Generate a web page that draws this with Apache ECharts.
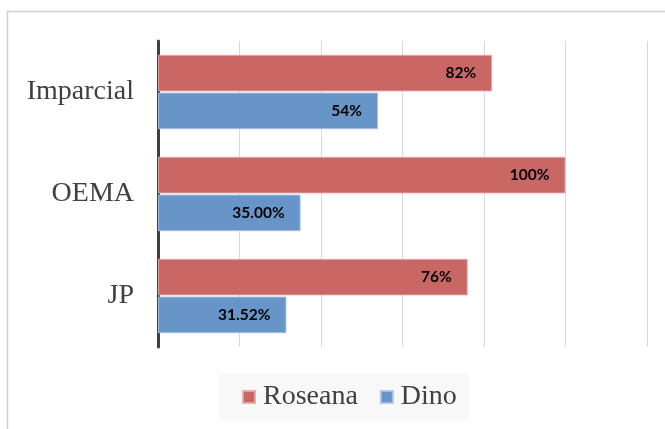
<!DOCTYPE html>
<html><head><meta charset="utf-8">
<script src="https://cdn.jsdelivr.net/npm/echarts@6/dist/echarts.min.js"></script>
<style>html,body{margin:0;padding:0;background:#fff}#c{width:665px;height:429px}</style>
</head><body><div id="c"></div>
<script>
var categories = ['Imparcial', 'OEMA', 'JP'];
var roseana = [82, 100, 76];
var dino = [54, 35.00, 31.52];
var roseanaLabels = ['82%', '100%', '76%'];
var dinoLabels = ['54%', '35.00%', '31.52%'];

var chart = echarts.init(document.getElementById('c'));
var labelStyle = function (labels) {
  return {
    show: true, position: 'insideRight', distance: 16,
    fontFamily: 'Lato', fontWeight: 'bold', fontSize: 15.5, color: '#000',
    formatter: function (p) { return labels[p.dataIndex]; }
  };
};
chart.setOption({
  animation: false,
  graphic: [{
    type: 'rect', shape: {x: 7.5, y: 11.5, width: 700, height: 500},
    style: {fill: 'none', stroke: '#d0d0d0', lineWidth: 1.5}, z: -10
  }],
  grid: {left: 158, right: 18, top: 41, bottom: 82},
  legend: {
    data: ['Roseana', 'Dino'],
    left: 219, top: 373,
    backgroundColor: '#f8f8f8',
    padding: [10, 12, 10, 23],
    itemWidth: 12, itemHeight: 12, itemGap: 22,
    icon: 'rect',
    textStyle: {fontFamily: 'Liberation Serif', fontSize: 28, color: '#404040', padding: [0, 0, 0, 3]}
  },
  xAxis: {
    type: 'value', min: 0, max: 120, interval: 20,
    axisLabel: {show: false}, axisTick: {show: false}, axisLine: {show: false},
    splitLine: {lineStyle: {color: '#d9d9d9', width: 1}}
  },
  yAxis: {
    type: 'category', data: categories, inverse: true,
    axisTick: {show: false},
    axisLine: {lineStyle: {color: '#404040', width: 3}},
    axisLabel: {fontFamily: 'Liberation Serif', fontSize: 28, color: '#404040', margin: 24}
  },
  series: [{
    name: 'Roseana', type: 'bar', data: roseana,
    barGap: '3%', barCategoryGap: '27%',
    itemStyle: {color: '#c96765', borderColor: 'rgba(230,170,170,0.9)', borderWidth: 1},
    label: labelStyle(roseanaLabels)
  }, {
    name: 'Dino', type: 'bar', data: dino,
    itemStyle: {color: '#6895c7', borderColor: 'rgba(170,195,230,0.9)', borderWidth: 1},
    label: labelStyle(dinoLabels)
  }]
});
</script></body></html>
